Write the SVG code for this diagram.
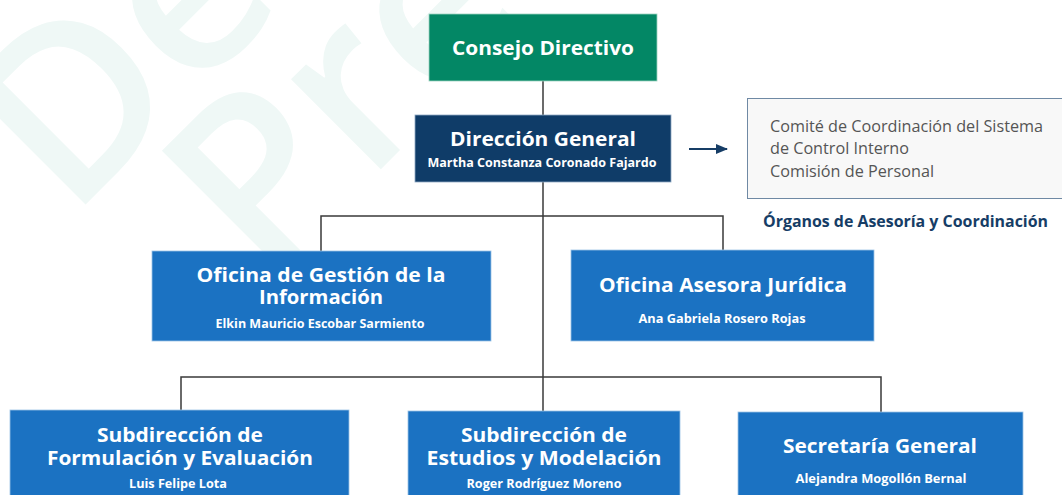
<svg xmlns="http://www.w3.org/2000/svg" width="1062" height="495" viewBox="0 0 1062 495">
<defs>
<style>
text{font-variant-ligatures:none}
.t{font-family:"Open Sans","Noto Sans",sans-serif;font-weight:700;fill:#fff;text-anchor:middle}
.h{font-size:20px}
.s{font-size:12px}
.side{font-family:"Open Sans","Noto Sans",sans-serif;font-size:16px;fill:#555}
.wm{font-family:"Open Sans","Noto Sans",sans-serif;font-weight:600;font-size:235px;fill:#eff8f6}
.ln{stroke:#3a3a3a;stroke-width:1.5;fill:none}
.blue{fill:#1b72c2;stroke:#9cc3e6;stroke-width:0.8}
</style>
<marker id="ah" viewBox="0 0 12 10" refX="11" refY="5" markerWidth="12" markerHeight="10" markerUnits="userSpaceOnUse" orient="auto">
<path d="M0,0 L12,5 L0,10 z" fill="#163d66"/>
</marker>
</defs>
<rect width="1062" height="495" fill="#fff"/>
<g id="watermark">
<text class="wm" transform="translate(70,220) rotate(-45)">De</text>
<text class="wm" transform="translate(265,285) rotate(-45)">Pre</text>
</g>
<g id="connectors">
<line class="ln" x1="543" y1="81" x2="543" y2="115"/>
<line class="ln" x1="543" y1="182" x2="543" y2="411"/>
<polyline class="ln" points="321,251 321,216 723,216 723,250"/>
<polyline class="ln" points="181,410 181,377 881,377 881,412"/>
<line x1="689" y1="149" x2="727" y2="149" stroke="#163d66" stroke-width="2" marker-end="url(#ah)"/>
</g>
<g id="consejo">
<rect x="429" y="14" width="228" height="67" fill="#038765" stroke="#9fd3c0" stroke-width="0.8"/>
<text class="t h" x="543" y="55" textLength="182" lengthAdjust="spacingAndGlyphs">Consejo Directivo</text>
</g>
<g id="direccion">
<rect x="415" y="115" width="256" height="67" fill="#0f3c68" stroke="#8ea9c4" stroke-width="0.8"/>
<text class="t h" x="543" y="146" textLength="186" lengthAdjust="spacingAndGlyphs">Dirección General</text>
<text class="t s" x="542" y="167" textLength="229" lengthAdjust="spacingAndGlyphs">Martha Constanza Coronado Fajardo</text>
</g>
<g id="organos">
<rect x="747.5" y="98.5" width="320" height="100" fill="#f8f8f8" stroke="#6f89a4" stroke-width="1"/>
<text class="side" x="770" y="132" textLength="273" lengthAdjust="spacingAndGlyphs">Comité de Coordinación del Sistema</text>
<text class="side" x="770" y="154" textLength="139" lengthAdjust="spacingAndGlyphs">de Control Interno</text>
<text class="side" x="770" y="177" textLength="164" lengthAdjust="spacingAndGlyphs">Comisión de Personal</text>
<text font-family="'Open Sans','Noto Sans',sans-serif" font-size="16" font-weight="700" fill="#163d66" x="763" y="227" textLength="285" lengthAdjust="spacingAndGlyphs">Órganos de Asesoría y Coordinación</text>
</g>
<g id="gestion">
<rect class="blue" x="152" y="251" width="339" height="90"/>
<text class="t h" x="321" y="282" textLength="249" lengthAdjust="spacingAndGlyphs">Oficina de Gestión de la</text>
<text class="t h" x="321" y="304" textLength="124" lengthAdjust="spacingAndGlyphs">Información</text>
<text class="t s" x="320" y="328" textLength="209" lengthAdjust="spacingAndGlyphs">Elkin Mauricio Escobar Sarmiento</text>
</g>
<g id="juridica">
<rect class="blue" x="571" y="250" width="303" height="91"/>
<text class="t h" x="723" y="292" textLength="248" lengthAdjust="spacingAndGlyphs">Oficina Asesora Jurídica</text>
<text class="t s" x="722" y="323" textLength="167" lengthAdjust="spacingAndGlyphs">Ana Gabriela Rosero Rojas</text>
</g>
<g id="formulacion">
<rect class="blue" x="10" y="410" width="339" height="90"/>
<text class="t h" x="180" y="442" textLength="166" lengthAdjust="spacingAndGlyphs">Subdirección de</text>
<text class="t h" x="180" y="465" textLength="266" lengthAdjust="spacingAndGlyphs">Formulación y Evaluación</text>
<text class="t s" x="178" y="488" textLength="98" lengthAdjust="spacingAndGlyphs">Luis Felipe Lota</text>
</g>
<g id="estudios">
<rect class="blue" x="408" y="411" width="272" height="90"/>
<text class="t h" x="544" y="442" textLength="166" lengthAdjust="spacingAndGlyphs">Subdirección de</text>
<text class="t h" x="544" y="465" textLength="235" lengthAdjust="spacingAndGlyphs">Estudios y Modelación</text>
<text class="t s" x="544" y="488" textLength="155" lengthAdjust="spacingAndGlyphs">Roger Rodríguez Moreno</text>
</g>
<g id="secretaria">
<rect class="blue" x="738" y="412" width="285" height="90"/>
<text class="t h" x="880" y="453" textLength="194" lengthAdjust="spacingAndGlyphs">Secretaría General</text>
<text class="t s" x="881" y="483" textLength="171" lengthAdjust="spacingAndGlyphs">Alejandra Mogollón Bernal</text>
</g>
</svg>
